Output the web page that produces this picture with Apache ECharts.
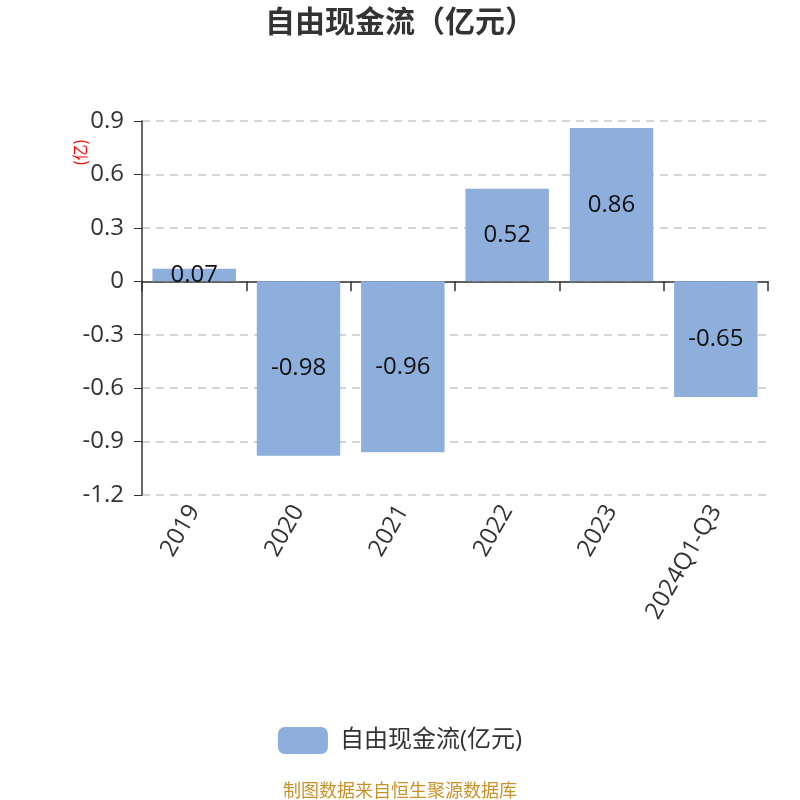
<!DOCTYPE html>
<html>
<head>
<meta charset="utf-8">
<script src="https://cdn.jsdelivr.net/npm/echarts@6/dist/echarts.min.js"></script>
<style>
  html, body { margin: 0; padding: 0; background: #fff; }
  #chart { width: 800px; height: 800px; }
</style>
</head>
<body>
<div id="chart"></div>
<script>
// Free cash flow by period, in 100 million yuan
const categories = ['2019', '2020', '2021', '2022', '2023', '2024Q1-Q3'];
const freeCashFlow = [0.07, -0.98, -0.96, 0.52, 0.86, -0.65];
const seriesName = '自由现金流(亿元)';
const titleText = '自由现金流（亿元）';
const sourceText = '制图数据来自恒生聚源数据库';
const unitText = '(亿)';

const FONT = "'Open Sans', 'Noto Sans CJK SC', sans-serif";
const chart = echarts.init(document.getElementById('chart'), null, { renderer: 'canvas' });

chart.setOption({
  backgroundColor: '#fff',
  animation: false,
  textStyle: { fontFamily: FONT },
  title: [
    {
      text: titleText,
      left: 'center',
      top: 3,
      textStyle: { fontSize: 30, fontWeight: 'bold', color: '#333', fontFamily: FONT }
    },
    {
      text: sourceText,
      left: 'center',
      top: 778,
      textStyle: { fontSize: 18, fontWeight: 'normal', color: '#c9922a', fontFamily: FONT }
    }
  ],
  legend: {
    data: [seriesName],
    top: 722,
    left: 'center',
    icon: 'roundRect',
    itemWidth: 50,
    itemHeight: 27,
    itemGap: 12,
    textStyle: { fontSize: 24, color: '#333', fontFamily: FONT, padding: [0, 0, 0, 7] }
  },
  graphic: [
    {
      type: 'text',
      left: 72,
      top: 139,
      rotation: Math.PI / 2,
      style: { text: unitText, fill: '#f00', font: "16px 'Noto Sans CJK SC', sans-serif" }
    }
  ],
  grid: { left: 142, right: 32, top: 121, bottom: 305, containLabel: false },
  xAxis: [
    {
      // axis line through zero with boundary ticks
      type: 'category',
      data: categories,
      position: 'bottom',
      axisLine: { onZero: true, lineStyle: { color: '#333', width: 1.5 } },
      axisTick: { show: true, length: 10, lineStyle: { color: '#333', width: 1.5 } },
      axisLabel: { show: false },
      splitLine: { show: false }
    },
    {
      // rotated category labels below the plot
      type: 'category',
      data: categories,
      position: 'bottom',
      axisLine: { show: false, onZero: false },
      axisTick: { show: false },
      axisLabel: { show: true, rotate: 60, fontSize: 24, color: '#333', margin: 12, fontFamily: FONT },
      splitLine: { show: false }
    }
  ],
  yAxis: {
    type: 'value',
    min: -1.2,
    max: 0.9,
    interval: 0.3,
    axisLine: { show: true, lineStyle: { color: '#333', width: 1.5 } },
    axisTick: { show: true, length: 8, lineStyle: { color: '#333' } },
    axisLabel: {
      fontSize: 24,
      color: '#333',
      margin: 18,
      fontFamily: FONT,
      formatter: v => String(Math.round(v * 10) / 10)
    },
    splitLine: { show: true, lineStyle: { color: '#c8c8c8', type: [8, 6], width: 1.5 } }
  },
  series: [
    {
      name: seriesName,
      type: 'bar',
      xAxisIndex: 0,
      data: freeCashFlow,
      barWidth: '80%',
      itemStyle: { color: '#8eaedb' },
      label: {
        show: true,
        position: 'inside',
        fontSize: 24,
        color: '#111',
        fontFamily: FONT,
        formatter: p => p.value.toFixed(2)
      }
    }
  ]
});
</script>
</body>
</html>
